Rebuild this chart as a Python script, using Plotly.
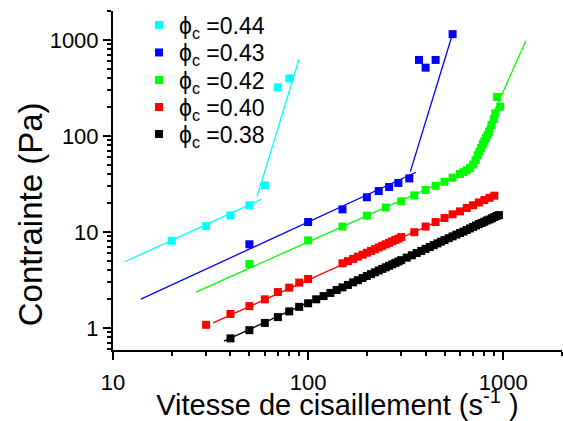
import plotly.graph_objects as go

# ---------------- data ----------------
labels = ["ϕ<sub>c</sub> =0.44", "ϕ<sub>c</sub> =0.43", "ϕ<sub>c</sub> =0.42",
          "ϕ<sub>c</sub> =0.40", "ϕ<sub>c</sub> =0.38"]
colors = ["#00FFFF", "#0000FF", "#00FF00", "#FF0000", "#000000"]

x044 = [20, 30, 40, 50, 60, 70, 80]
y044 = [8.1, 11.5, 14.9, 19.0, 30.6, 321, 398]

x043 = [50, 100, 150, 200, 230, 260, 290, 330, 370, 400, 450, 550]
y043 = [7.45, 12.7, 17.2, 23.0, 26.7, 29.4, 32.4, 36.2, 620, 515, 620, 1150]

x042 = [50, 100, 150, 200, 250, 300, 350, 400, 450, 500, 550, 600, 625, 650,
        675, 700, 720, 740, 755, 770, 785, 800, 815, 830, 845, 870, 895, 910,
        965, 930]
y042 = [4.64, 8.18, 11.4, 14.8, 18.0, 20.9, 24.1, 27.4, 30.3, 33.4, 36.8, 40.2,
        42.0, 44.0, 46.5, 50.5, 56, 63, 69, 75, 82, 88, 95, 102, 111, 130, 150,
        172, 202, 255]

x040 = [30, 40, 50, 60, 70, 80, 90, 100, 150, 160, 170, 180, 190, 200, 210,
        220, 230, 240, 250, 260, 270, 280, 290, 300, 350, 400, 450, 500, 550,
        600, 650, 700, 750, 800, 850, 900]
y040 = [1.08, 1.40, 1.69, 1.99, 2.37, 2.63, 2.97, 3.24, 4.72, 4.97, 5.24, 5.53,
        5.80, 6.08, 6.36, 6.63, 6.91, 7.18, 7.45, 7.72, 8.00, 8.27, 8.53, 8.85,
        9.95, 11.4, 12.7, 14.0, 15.3, 16.4, 17.8, 19.0, 20.3, 21.5, 22.7, 23.9]

x038 = [40, 50, 60, 70, 80, 90, 100, 110, 120, 130, 140, 150, 160, 170, 180,
        190, 200, 210, 220, 230, 240, 250, 260, 270, 280, 290, 300, 320, 340,
        360, 380, 400, 420, 440, 460, 480, 500, 525, 550, 575, 600, 625, 650,
        675, 700, 725, 750, 775, 800, 825, 850, 875, 900, 925, 950]
y038 = [0.78, 0.95, 1.13, 1.30, 1.49, 1.66, 1.81, 1.99, 2.15, 2.32, 2.49, 2.65,
        2.81, 2.99, 3.15, 3.32, 3.48, 3.64, 3.80, 3.97, 4.13, 4.29, 4.45, 4.61,
        4.77, 4.93, 5.09, 5.41, 5.72, 6.04, 6.35, 6.67, 6.98, 7.30, 7.61, 7.93,
        8.24, 8.62, 9.00, 9.39, 9.77, 10.1, 10.5, 10.9, 11.3, 11.7, 12.1, 12.4,
        12.8, 13.2, 13.5, 13.9, 14.3, 14.7, 15.0]

# fitted power-law segments (end points)
fit044_a_x, fit044_a_y = [11.5, 57.5], [4.9, 21.9]
fit044_b_x, fit044_b_y = [54.7, 89.8], [23.3, 630]
fit043_a_x, fit043_a_y = [13.9, 357], [2.0, 41.9]
fit043_b_x, fit043_b_y = [334, 551], [42.5, 1174]
fit042_a_x, fit042_a_y = [26.6, 650], [2.37, 43]
fit042_b_x, fit042_b_y = [780, 1306], [94, 984]
fit040_x, fit040_y = [32.6, 930], [1.13, 24.6]
fit038_x, fit038_y = [37, 950], [0.73, 15.0]

x_tick_vals = [10, 100, 1000]
x_tick_text = ["10", "100", "1000"]
y_tick_vals = [1, 10, 100, 1000]
y_tick_text = ["1", "10", "100", "1000"]
x_minor = [20, 30, 40, 50, 60, 70, 80, 90, 200, 300, 400, 500, 600, 700, 800,
           900, 2000]
y_minor = [0.6, 0.7, 0.8, 0.9, 2, 3, 4, 5, 6, 7, 8, 9, 20, 30, 40, 50, 60, 70,
           80, 90, 200, 300, 400, 500, 600, 700, 800, 900, 2000]

x_title = "Vitesse de cisaillement (s<sup>-1</sup> )"
y_title = "Contrainte (Pa)"

# ---------------- figure ----------------
FONT = "Liberation Sans, Arial, sans-serif"
fig = go.Figure()

fits = [
    [(fit044_a_x, fit044_a_y), (fit044_b_x, fit044_b_y)],
    [(fit043_a_x, fit043_a_y), (fit043_b_x, fit043_b_y)],
    [(fit042_a_x, fit042_a_y), (fit042_b_x, fit042_b_y)],
    [(fit040_x, fit040_y)],
    [(fit038_x, fit038_y)],
]
series = [(x044, y044), (x043, y043), (x042, y042), (x040, y040), (x038, y038)]

for segs, col in zip(fits, colors):
    for fx, fy in segs:
        fig.add_trace(go.Scatter(x=fx, y=fy, mode="lines",
                                 line=dict(color=col, width=1.3),
                                 showlegend=False, hoverinfo="skip"))

legend_names = ["legend", "legend2", "legend3", "legend4", "legend5"]
for (sx, sy), col, lab, lg in zip(series, colors, labels, legend_names):
    fig.add_trace(go.Scatter(x=sx, y=sy, mode="markers", name=lab, legend=lg,
                             marker=dict(symbol="square", size=8, color=col,
                                         line=dict(width=0))))

axis_common = dict(
    type="log", showgrid=False, zeroline=False, showline=True,
    linecolor="black", linewidth=2, ticks="outside", ticklen=8, tickwidth=2,
    tickcolor="black", tickfont=dict(family=FONT, size=22, color="black"),
    mirror=False,
)

fig.update_xaxes(
    **axis_common, range=[1, 3.301], tickmode="array", tickvals=x_tick_vals,
    ticktext=x_tick_text, ticklabelstandoff=4,
    minor=dict(tickmode="array", tickvals=x_minor, ticks="outside", ticklen=4,
               tickwidth=1.5, tickcolor="black", showgrid=False),
    title=dict(text=x_title,
               font=dict(family=FONT, size=29, color="black"), standoff=3),
)
fig.update_yaxes(
    **axis_common, range=[-0.229, 3.302], tickmode="array",
    tickvals=y_tick_vals, ticktext=y_tick_text,
    minor=dict(tickmode="array", tickvals=y_minor, ticks="outside", ticklen=4,
               tickwidth=1.5, tickcolor="black", showgrid=False),
)

# y-axis title as a rotated annotation (it sits lower than the axis centre)
fig.add_annotation(text=y_title, textangle=-90, xref="paper", yref="paper",
                   x=-0.183, y=0.40, xanchor="center", yanchor="middle",
                   showarrow=False,
                   font=dict(family=FONT, size=33, color="black"))

# one single-entry legend per series, stacked like the reference legend
legend_rows = [0.9587, 0.8776, 0.7965, 0.7168, 0.6372]
legend_style = dict(x=0.058, xanchor="left", yanchor="middle",
                    bgcolor="rgba(0,0,0,0)", borderwidth=0,
                    font=dict(family=FONT, size=23, color="black"),
                    itemwidth=30)
layout_legends = {lg: dict(y=ry, **legend_style)
                  for lg, ry in zip(legend_names, legend_rows)}

fig.update_layout(
    width=563, height=421,
    margin=dict(l=113, r=1, t=11, b=71, autoexpand=False),
    plot_bgcolor="white", paper_bgcolor="white",
    font=dict(family=FONT, color="black"),
    **layout_legends,
)

fig.write_html("out.html",
               config={"displayModeBar": False},
               post_script="document.body.style.margin='0';"
                           "document.body.style.overflow='hidden';")
